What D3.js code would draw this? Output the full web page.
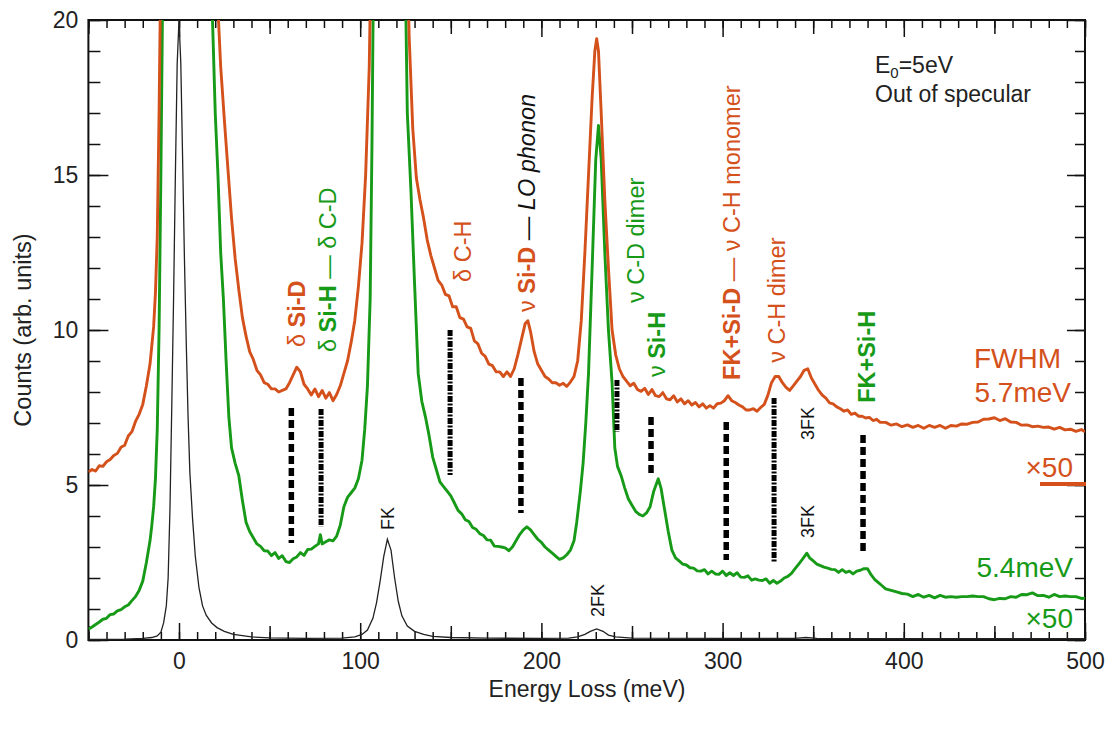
<!DOCTYPE html>
<html>
<head>
<meta charset="utf-8">
<script src="https://cdn.jsdelivr.net/npm/d3@7"></script>
<style>
  body { margin: 0; background: #fff; }
  text { font-family: Arial, "Liberation Sans", sans-serif; }
</style>
</head>
<body>
<div id="chart"></div>
<script>
// spectra: [energy loss (meV), counts]
var orangeSpectrum = [
  [-50,5.42],[-48,5.5],[-46,5.45],[-44,5.62],[-42,5.6],[-40,5.75],[-38,5.82],[-36,5.95],[-34,6.02],[-32,6.22],[-30,6.28],[-28,6.58],[-26,6.72],[-24,7.05],[-22,7.28],[-20,7.6],[-18,8.2],[-16,8.9],[-14,10.1],[-13,11.2],[-12,13],[-11,17],[-10,22],[-8,32],
  [18,32],[21,21],[23,18.5],[25,16.8],[27,15.2],[29,13.6],[31,12.3],[33,11.3],[35,10.4],[37,9.8],[39,9.3],[41,9.05],[43,8.7],[45,8.55],[47,8.3],[49,8.25],[51,8.1],[53,8.1],[55,8.0],[57,8.05],[59,8.1],[61,8.3],[63,8.55],[65,8.8],[67,8.65],[69,8.25],[71,8.1],[73,7.9],[75,8.1],[77,7.85],[79,8.05],[81,7.8],[83,7.98],[85,7.72],[87,7.92],[89,8.2],[91,8.6],[93,9.0],[95,9.6],[97,10.3],[99,11.4],[101,12.8],[103,15.0],[105,18.5],[107,26],[109,34],
  [123,34],[125,25],[127,19.5],[129,16.5],[131,14.9],[133,14.2],[135,13.6],[137,12.9],[139,12.4],[141,12.0],[143,11.6],[145,11.45],[147,11.15],[149,11.1],[151,10.75],[153,10.75],[155,10.4],[157,10.35],[159,10.1],[161,10.05],[163,9.65],[165,9.55],[167,9.25],[169,9.15],[171,8.9],[173,8.85],[175,8.65],[177,8.65],[179,8.5],[181,8.65],[183,8.5],[185,8.75],[187,9.2],[189,9.7],[191,10.2],[192.5,10.3],[194,9.95],[196,9.3],[198,8.9],[200,8.7],[202,8.5],[204,8.42],[206,8.3],[208,8.3],[210,8.22],[212,8.28],[214,8.18],[216,8.32],[218,8.5],[220,9.0],[222,10.3],[224,12.5],[226,15.0],[228,17.5],[229.5,19.0],[230.5,19.4],[231.5,19.0],[233,17.0],[235,14.2],[237,12.0],[239,10.0],[241,9.2],[243,8.75],[245,8.5],[247,8.35],[249,8.2],[251,8.28],[253,8.08],[255,8.02],[257,8.12],[259,7.92],[261,8.08],[263,7.88],[265,7.85],[267,7.98],[269,7.78],[271,7.75],[273,7.88],[275,7.68],[277,7.78],[279,7.62],[281,7.72],[283,7.58],[285,7.66],[287,7.52],[289,7.62],[291,7.48],[293,7.56],[295,7.48],[297,7.62],[299,7.64],[301,7.72],[303,7.88],[305,7.72],[307,7.66],[309,7.58],[311,7.52],[313,7.42],[315,7.42],[317,7.46],[319,7.38],[321,7.5],[323,7.6],[325,7.9],[327,8.3],[329,8.5],[331,8.5],[333,8.3],[335,8.15],[337,8.05],[339,8.2],[341,8.35],[343,8.5],[345,8.7],[347,8.75],[349,8.45],[351,8.25],[353,8.05],[355,7.9],[357,7.8],[359,7.65],[361,7.62],[363,7.52],[365,7.46],[367,7.38],[369,7.42],[371,7.28],[373,7.32],[375,7.22],[377,7.22],[379,7.16],[381,7.18],[383,7.08],[385,7.12],[387,7.02],[390,7.02],[393,6.93],[396,6.97],[399,6.88],[402,6.94],[405,6.86],[408,6.92],[411,6.83],[414,6.92],[417,6.86],[420,6.92],[423,6.83],[426,6.92],[429,6.9],[432,6.97],[435,6.96],[438,7.02],[441,7.03],[444,7.12],[447,7.13],[450,7.17],[453,7.08],[456,7.14],[459,7.03],[462,7.02],[465,6.93],[468,6.94],[471,6.88],[474,6.9],[477,6.86],[480,6.87],[483,6.8],[486,6.86],[489,6.78],[492,6.8],[495,6.73],[498,6.79],[500,6.72]
];

var greenSpectrum = [
  [-50,0.35],[-48,0.42],[-46,0.5],[-44,0.58],[-42,0.67],[-40,0.7],[-38,0.82],[-36,0.84],[-34,0.94],[-32,0.98],[-30,1.07],[-28,1.13],[-26,1.27],[-24,1.4],[-22,1.6],[-20,1.9],[-18,2.5],[-16,3.2],[-15,3.7],[-14,4.3],[-13,5.2],[-12,6.8],[-11,10],[-10,15],[-9,21],[-7,32],
  [16,32],[18.5,20],[20,17],[21.5,15],[23,12.5],[24.5,11],[26,9],[27.5,7.2],[29,6.2],[31,5.7],[33,5.3],[35,4.5],[37,3.8],[39,3.5],[41,3.3],[43,3.1],[45,3.02],[47,2.88],[49,2.87],[51,2.72],[53,2.82],[55,2.63],[57,2.72],[59,2.53],[61,2.5],[63,2.62],[65,2.68],[67,2.82],[69,2.73],[71,2.92],[73,2.93],[75,3.02],[77,3.1],[78,3.4],[79,3.1],[81,3.17],[83,3.23],[85,3.2],[87,3.35],[89,3.7],[91,4.3],[93,4.6],[95,4.75],[97,4.9],[99,5.2],[101,5.8],[102.5,6.8],[104,8.2],[105.5,11],[106.5,16],[108,26],[110,34],
  [122,34],[124,25],[126,17],[128,14.5],[130,11.5],[132,8.6],[134,7.7],[136,7.2],[138,6.6],[140,5.9],[142,5.5],[144,5.1],[146,4.95],[148,4.8],[150,4.65],[152,4.42],[154,4.18],[156,4.07],[158,3.88],[160,3.82],[162,3.63],[164,3.57],[166,3.43],[168,3.37],[170,3.23],[172,3.22],[174,3.03],[176,3.02],[178,3.0],[180,2.97],[182,2.88],[184,3.0],[186,3.2],[188,3.4],[190,3.55],[192,3.65],[194,3.55],[196,3.4],[198,3.25],[200,3.15],[202,3.0],[204,2.9],[206,2.8],[208,2.7],[210,2.6],[212,2.65],[214,2.75],[216,2.9],[218,3.2],[219.5,3.8],[221.5,4.8],[223,5.7],[224.5,7.0],[226,8.6],[228,12],[230,15.5],[231.5,16.6],[233,15.5],[235,12.5],[237,10.0],[239,8.3],[240.5,6.2],[242,5.6],[244,5.3],[246,4.9],[248,4.55],[250,4.35],[252,4.15],[254,4.05],[256,4.0],[258,4.1],[260,4.3],[262,4.8],[264.5,5.2],[266,4.9],[268,4.2],[270,3.5],[272,2.9],[274,2.65],[276,2.55],[278,2.45],[280,2.42],[282,2.33],[284,2.32],[286,2.23],[288,2.22],[290,2.27],[292,2.13],[294,2.22],[296,2.13],[298,2.12],[300,2.22],[302,2.08],[304,2.17],[306,2.08],[308,2.17],[310,2.03],[312,2.02],[314,2.07],[316,1.93],[318,1.97],[320,1.93],[322,1.92],[324,1.97],[326,1.83],[328,1.92],[330,1.83],[332,1.9],[334,2.0],[336,2.05],[338,2.15],[340,2.3],[342,2.45],[344,2.6],[346.5,2.8],[348,2.65],[350,2.55],[352,2.45],[354,2.4],[356,2.35],[358,2.32],[360,2.28],[362,2.27],[364,2.18],[366,2.27],[368,2.18],[370,2.22],[372,2.13],[374,2.22],[376,2.25],[378,2.3],[380,2.3],[382,2.1],[384,1.95],[386,1.85],[388,1.75],[390,1.65],[393,1.6],[396,1.55],[399,1.5],[402,1.48],[405,1.4],[408,1.47],[411,1.38],[414,1.44],[417,1.36],[420,1.44],[423,1.38],[426,1.4],[429,1.38],[432,1.4],[435,1.4],[438,1.42],[441,1.4],[444,1.4],[447,1.33],[450,1.3],[453,1.34],[456,1.33],[459,1.4],[462,1.38],[465,1.47],[468,1.46],[471,1.52],[474,1.43],[477,1.44],[480,1.38],[483,1.47],[486,1.4],[489,1.42],[492,1.4],[495,1.4],[498,1.34],[500,1.35]
];

var blackSpectrum = [
  [-50,0.02],[-30,0.03],[-20,0.05],[-15,0.08],[-12,0.13],[-10,0.25],[-8.5,0.55],[-7,1.1],[-6,2.0],[-5,4.2],[-4,7.5],[-3,11],[-2,15],[-1,18.6],[0,20],[1,18.6],[2,15.5],[3,12.3],[4,9.6],[5,7.2],[6,5.4],[7.5,3.9],[9,2.7],[11,1.7],[13,1.1],[15,0.8],[18,0.55],[21,0.4],[25,0.28],[30,0.18],[40,0.1],[50,0.07],[70,0.05],[90,0.06],[97,0.1],[101,0.18],[104,0.32],[107,0.7],[109,1.2],[111,1.9],[113,2.7],[115,3.25],[117,2.9],[119,2.0],[121,1.25],[123,0.78],[126,0.45],[130,0.28],[135,0.18],[140,0.12],[150,0.08],[170,0.06],[200,0.05],[215,0.06],[220,0.1],[224,0.18],[227,0.28],[230.5,0.36],[234,0.28],[237,0.16],[241,0.1],[250,0.06],[300,0.05],[340,0.05],[346,0.08],[352,0.05],[400,0.04],[500,0.04]
];

// vertical dashed markers
var markLoss   = [62, 78.4, 149.6, 188.7, 241.7, 260.5, 302, 328.4, 377.5];
var markTop    = [7.48, 7.45, 10.0, 8.45, 8.39, 7.19, 7.03, 7.81, 6.61];
var markBottom = [3.13, 3.65, 5.32, 4.1, 6.71, 5.39, 2.58, 2.48, 2.81];
var markDense  = [false, true, true, false, true, false, false, true, false];

var xTickLabels = [0, 100, 200, 300, 400, 500];
var yTickLabels = [0, 5, 10, 15, 20];

var ORANGE = "#d4511b";
var GREEN = "#179a17";

// peak labels: position (loss, counts at bottom of text) and pieces [text, colour, weight, style]
var peakLabels = [
  {loss: 65.1, at: 9.45, parts: [["δ ", ORANGE, "normal"], ["Si-D", ORANGE, "bold"]]},
  {loss: 82.2, at: 9.29, parts: [["δ ", GREEN, "normal"], ["Si-H", GREEN, "bold"], [" — δ C-D", GREEN, "normal"]]},
  {loss: 156.2, at: 11.55, parts: [["δ C-H", ORANGE, "normal"]]},
  {loss: 192, at: 10.58, parts: [["ν ", ORANGE, "normal"], ["Si-D", ORANGE, "bold"], [" — ", "#111", "normal"], ["LO phonon", "#111", "normal", "italic"]]},
  {loss: 251.7, at: 10.87, parts: [["ν C-D dimer", GREEN, "normal"]]},
  {loss: 263.8, at: 8.48, parts: [["ν ", GREEN, "normal"], ["Si-H", GREEN, "bold"]]},
  {loss: 305.2, at: 8.39, parts: [["FK+Si-D", ORANGE, "bold"], [" — ν C-H monomer", ORANGE, "normal"]]},
  {loss: 330, at: 8.94, parts: [["ν  C-H dimer", ORANGE, "normal"]]},
  {loss: 379.7, at: 7.65, parts: [["FK+Si-H", GREEN, "bold"]]}
];
var phononLabels = [
  {loss: 347, at: 6.45, text: "3FK"},
  {loss: 347, at: 3.29, text: "3FK"},
  {loss: 115.3, at: 3.55, text: "FK"},
  {loss: 230.7, at: 0.74, text: "2FK"}
];

var svgWidth = 1113, svgHeight = 731;

var svg = d3.select("#chart").append("svg")
  .attr("width", svgWidth)
  .attr("height", svgHeight);

var x = d3.scaleLinear().domain([-50, 500]).range([88.4, 1085]);
var y = d3.scaleLinear().domain([0, 20]).range([640, 20]);

svg.append("defs").append("clipPath").attr("id", "plotClip")
  .append("rect")
  .attr("x", x(-50)).attr("y", y(20))
  .attr("width", x(500) - x(-50)).attr("height", y(0) - y(20));

// axes, ticks pointing inwards on all four sides
function addAxis(axis, transform, fontSize) {
  var g = svg.append("g").attr("transform", transform).call(axis);
  g.select(".domain").remove();
  g.selectAll(".tick line").attr("stroke", "#111").attr("stroke-width", 1.5);
  g.selectAll("text")
    .attr("fill", "#222")
    .style("font-size", (fontSize || 10) + "px")
    .style("font-family", "Arial, 'Liberation Sans', sans-serif");
  return g;
}

var blank = function() { return ""; };

addAxis(d3.axisBottom(x).tickValues(d3.range(-50, 501, 10)).tickSize(-8).tickFormat(blank), "translate(0,640)");
addAxis(d3.axisBottom(x).tickValues(d3.range(-50, 501, 100)).tickSize(-14).tickFormat(blank), "translate(0,640)");
addAxis(d3.axisBottom(x).tickValues(xTickLabels).tickSize(-17).tickPadding(13), "translate(0,640)", 23);

addAxis(d3.axisTop(x).tickValues(d3.range(-50, 501, 10)).tickSize(-8).tickFormat(blank), "translate(0,20)");
addAxis(d3.axisTop(x).tickValues(d3.range(-50, 501, 100)).tickSize(-14).tickFormat(blank), "translate(0,20)");
addAxis(d3.axisTop(x).tickValues(xTickLabels).tickSize(-17).tickFormat(blank), "translate(0,20)");

addAxis(d3.axisLeft(y).tickValues(d3.range(0, 21, 1)).tickSize(-12).tickFormat(blank), "translate(88.4,0)");
addAxis(d3.axisLeft(y).tickValues(yTickLabels).tickSize(-20).tickPadding(10), "translate(88.4,0)", 23);

addAxis(d3.axisRight(y).tickValues(d3.range(0, 21, 1)).tickSize(-10).tickFormat(blank), "translate(1085,0)");
addAxis(d3.axisRight(y).tickValues(yTickLabels).tickSize(-18).tickFormat(blank), "translate(1085,0)");

svg.append("rect")
  .attr("x", x(-50)).attr("y", y(20))
  .attr("width", x(500) - x(-50)).attr("height", y(0) - y(20))
  .attr("fill", "none").attr("stroke", "#111").attr("stroke-width", 2);

// curves
var line = d3.line().x(d => x(d[0])).y(d => y(d[1]));
var plot = svg.append("g").attr("clip-path", "url(#plotClip)");

plot.append("path").datum(blackSpectrum)
  .attr("d", line).attr("fill", "none")
  .attr("stroke", "#222").attr("stroke-width", 1.3);
plot.append("path").datum(greenSpectrum)
  .attr("d", line).attr("fill", "none")
  .attr("stroke", GREEN).attr("stroke-width", 2.9).attr("stroke-linejoin", "round");
plot.append("path").datum(orangeSpectrum)
  .attr("d", line).attr("fill", "none")
  .attr("stroke", ORANGE).attr("stroke-width", 2.9).attr("stroke-linejoin", "round");

// dashed markers
markLoss.forEach(function(e, i) {
  svg.append("line")
    .attr("x1", x(e)).attr("x2", x(e))
    .attr("y1", y(markTop[i])).attr("y2", y(markBottom[i]))
    .attr("stroke", "#000")
    .attr("stroke-width", markDense[i] ? 5 : 5.5)
    .attr("stroke-dasharray", markDense[i] ? "6,1.5,2,1.5" : "8,4");
});

// rotated peak labels
peakLabels.forEach(function(lb) {
  var t = svg.append("text")
    .attr("transform", "translate(" + x(lb.loss) + "," + y(lb.at) + ") rotate(-90)")
    .attr("dy", "0.36em")
    .style("font-size", "23.5px");
  lb.parts.forEach(function(p) {
    t.append("tspan").text(p[0])
      .attr("fill", p[1])
      .style("font-weight", p[2])
      .style("font-style", p[3] || "normal");
  });
});

phononLabels.forEach(function(lb) {
  svg.append("text")
    .attr("transform", "translate(" + x(lb.loss) + "," + y(lb.at) + ") rotate(-90)")
    .attr("dy", "0.36em")
    .attr("fill", "#111")
    .style("font-size", "18px")
    .text(lb.text);
});

// info text
var info = svg.append("text").attr("x", 875).attr("y", 73).attr("fill", "#222").style("font-size", "23px");
info.append("tspan").text("E");
info.append("tspan").text("0").attr("dy", 5).style("font-size", "15px");
info.append("tspan").text("=5eV").attr("dy", -5);
svg.append("text").attr("x", 875).attr("y", 102).attr("fill", "#222").style("font-size", "23px").text("Out of specular");

// scale / resolution notes
svg.append("text").attr("x", 1061).attr("y", 368).attr("text-anchor", "end").attr("fill", ORANGE).style("font-size", "28px").text("FWHM");
svg.append("text").attr("x", 1071).attr("y", 402).attr("text-anchor", "end").attr("fill", ORANGE).style("font-size", "28px").text("5.7meV");
svg.append("text").attr("x", 1073).attr("y", 477).attr("text-anchor", "end").attr("fill", ORANGE).style("font-size", "28px").text("×50");
svg.append("line").attr("x1", 1040).attr("x2", 1086).attr("y1", 484).attr("y2", 484).attr("stroke", ORANGE).attr("stroke-width", 4);
svg.append("text").attr("x", 1073).attr("y", 577).attr("text-anchor", "end").attr("fill", GREEN).style("font-size", "28px").text("5.4meV");
svg.append("text").attr("x", 1073).attr("y", 628).attr("text-anchor", "end").attr("fill", GREEN).style("font-size", "28px").text("×50");

// axis titles
svg.append("text").attr("x", 587).attr("y", 697).attr("text-anchor", "middle").attr("fill", "#222").style("font-size", "23px").text("Energy Loss (meV)");
svg.append("text").attr("transform", "translate(31,330) rotate(-90)").attr("text-anchor", "middle").attr("fill", "#222").style("font-size", "23.5px").text("Counts (arb. units)");
</script>
</body>
</html>
